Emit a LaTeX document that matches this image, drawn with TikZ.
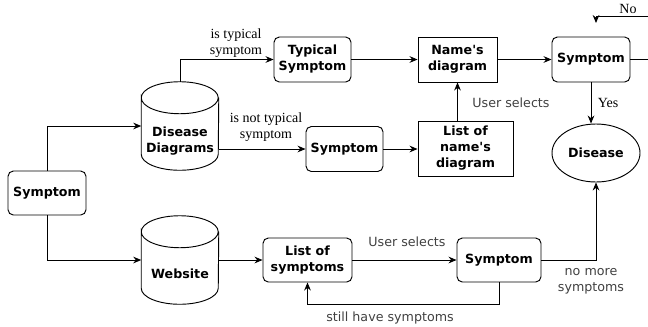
\documentclass[tikz,border=0pt]{standalone}
\usepackage{fontspec}
\setmainfont{DejaVu Sans}
\newfontfamily\serifetiq{Liberation Serif}
\usetikzlibrary{arrows.meta,shapes.geometric}
\newcommand{\bastexte}[1]{\raisebox{-13.5pt}[0pt][0pt]{\begin{tabular}{@{}c@{}}#1\end{tabular}}}
\newcommand{\cylindre}[1]{%
  \draw[trait] ([yshift=-12pt]#1.north west)
    arc[start angle=180,end angle=-180,x radius=28.875pt,y radius=12pt]
    -- ([yshift=12pt]#1.south west)
    arc[start angle=180,end angle=360,x radius=28.875pt,y radius=12pt]
    -- ([yshift=-12pt]#1.north east);}

\begin{document}
\begin{tikzpicture}[x=0.75pt,y=-0.75pt,
  trait/.style={line width=0.7pt},
  fleche/.style={trait,-{Stealth[length=6pt,width=5pt]}},
  boite/.style={draw,trait,rounded corners=4pt,align=center,inner sep=1pt,
    font=\fontsize{9.5}{12}\selectfont\bfseries},
  carre/.style={draw,trait,align=center,inner sep=1pt,
    font=\fontsize{9.5}{12}\selectfont\bfseries},
  base/.style={minimum width=57.75pt,minimum height=66pt,inner sep=0pt,
    font=\fontsize{9.5}{12}\selectfont\bfseries},
  etiq/.style={align=center,text=black!75,font=\fontsize{9.5}{12}\selectfont},
  etiqserif/.style={align=center,font=\serifetiq\fontsize{10.5}{12.5}\selectfont}]
\useasboundingbox (0,0) rectangle (648,326);
% Symptome de depart
\node[boite,minimum width=58.5pt,minimum height=33pt] (sympt) at (47,193) {Symptom};
% Bases
\node[base] (diag) at (180,126) {\bastexte{Disease\\Diagrams}};
\cylindre{diag}
\node[base] (site) at (180,260) {\bastexte{Website}};
\cylindre{site}
% Ligne du haut
\node[boite,minimum width=57.75pt,minimum height=33.75pt] (typique) at (312.5,59.5) {Typical\\Symptom};
\node[carre,minimum width=59.25pt,minimum height=33.75pt] (nom) at (457.5,59.5) {Name\textquotesingle s\\diagram};
\node[boite,minimum width=58.5pt,minimum height=33.75pt] (symptC) at (591,59.5) {Symptom};
% Ligne du milieu
\node[boite,minimum width=57.75pt,minimum height=33.75pt] (symptB) at (344.5,149) {Symptom};
\node[carre,minimum width=71.25pt,minimum height=41.25pt] (liste) at (465.5,148.5) {List of\\name\textquotesingle s\\diagram};
\node[draw,trait,ellipse,minimum width=66pt,minimum height=43.5pt,inner sep=0pt,
  font=\fontsize{9.5}{12}\selectfont\bfseries] (maladie) at (596,153) {Disease};
% Ligne du bas
\node[boite,minimum width=66.75pt,minimum height=33pt] (listeS) at (307.5,260) {List of\\symptoms};
\node[boite,minimum width=63pt,minimum height=33pt] (symptD) at (499,260) {Symptom};
% Bords
\coordinate (bord) at (648,59.5);
\coordinate (nonA) at (648,16);
\coordinate (nonB) at (596,23);
% Fleches
\draw[fleche] (sympt.north) |- (diag.west);
\draw[fleche] (sympt.south) |- (site.west);
\draw[fleche] (diag.north) |- (typique.west);
\draw[fleche] (diag.east |- symptB.west) -- (symptB.west);
\draw[fleche] (typique.east) -- (nom.west);
\draw[fleche] (symptB.east) -- (symptB.east -| liste.west);
\draw[fleche] (nom.south |- liste.north) -- (nom.south);
\draw[fleche] (nom.east) -- (symptC.west);
\draw[trait] (symptC.east) -- (bord);
\draw[fleche] (nonA) -| (nonB);
\draw[fleche] (symptC.south) -- (symptC.south |- maladie.north);
\draw[fleche] (site.east) -- (listeS.west);
\draw[fleche] (listeS.east) -- (symptD.west);
\draw[fleche] (symptD.east) -| (maladie.south);
\draw[fleche] (symptD.south) -- ++(0,22) -| (listeS.south);
% Etiquettes
\node[etiqserif] at (236,43) {is typical\\symptom};
\node[etiqserif] at (266,127) {is not typical\\symptom};
\node[etiqserif] at (628,9) {No};
\node[etiqserif] at (608,103) {Yes};
\node[etiq] at (511,103) {User selects};
\node[etiq] at (407,242) {User selects};
\node[etiq] at (591,281) {no more\\symptoms};
\node[etiq] at (390,318) {still have symptoms};
\end{tikzpicture}
\end{document}
